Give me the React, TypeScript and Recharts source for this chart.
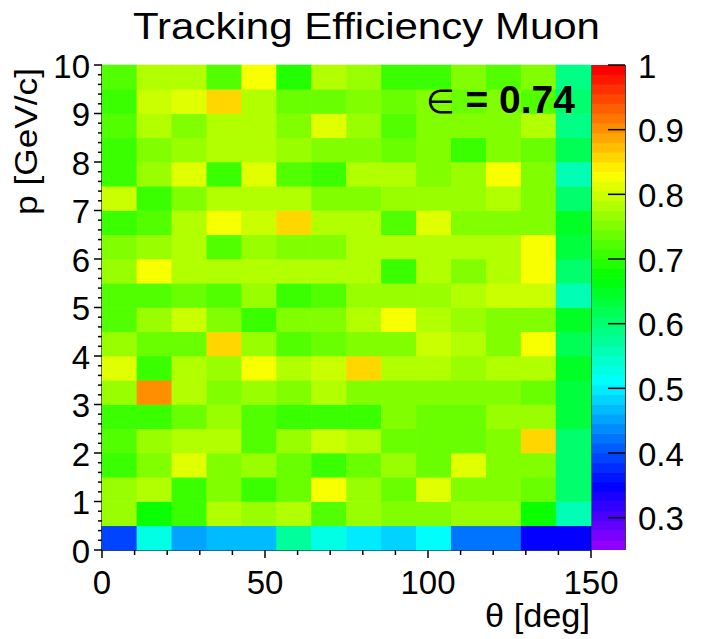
// Tracking efficiency map for muons: theta (deg) vs momentum (GeV/c),
// drawn as a ROOT-style COLZ histogram with a 50-step rainbow palette.

import { ReferenceLine, Scatter, ScatterChart, XAxis, YAxis } from "recharts";

const TITLE = "Tracking Efficiency Muon";
const X_TITLE = "θ [deg]";
const Y_TITLE = "p [GeV/c]";
const MEAN_EFF = "0.74";

// binning
const THETA_MAX = 150;
const THETA_BINS = 14;
const P_BIN = 0.5;

// palette range
const Z_MIN = 0.25;
const Z_MAX = 1;
const N_COLORS = 50;

// efficiency per theta bin, one array per momentum bin (lower edge in name)
const P00 = [0.393, 0.532, 0.457, 0.467, 0.467, 0.575, 0.532, 0.5, 0.489, 0.51, 0.425, 0.425, 0.35, 0.35];
const P05 = [0.767, 0.682, 0.703, 0.778, 0.767, 0.778, 0.725, 0.767, 0.757, 0.757, 0.767, 0.767, 0.682, 0.553];
const P10 = [0.767, 0.778, 0.703, 0.757, 0.714, 0.735, 0.832, 0.767, 0.735, 0.81, 0.757, 0.757, 0.735, 0.607];
const P15 = [0.714, 0.746, 0.81, 0.746, 0.767, 0.735, 0.714, 0.735, 0.767, 0.735, 0.81, 0.757, 0.746, 0.607];
const P20 = [0.725, 0.767, 0.789, 0.789, 0.725, 0.767, 0.8, 0.778, 0.735, 0.735, 0.735, 0.757, 0.853, 0.607];
const P25 = [0.714, 0.703, 0.735, 0.767, 0.725, 0.714, 0.703, 0.714, 0.757, 0.735, 0.735, 0.767, 0.767, 0.639];
const P30 = [0.767, 0.896, 0.778, 0.746, 0.767, 0.746, 0.778, 0.746, 0.757, 0.757, 0.757, 0.746, 0.735, 0.628];
const P35 = [0.81, 0.703, 0.778, 0.767, 0.832, 0.778, 0.8, 0.853, 0.789, 0.778, 0.767, 0.789, 0.789, 0.65];
const P40 = [0.767, 0.735, 0.735, 0.853, 0.767, 0.725, 0.735, 0.757, 0.746, 0.8, 0.778, 0.757, 0.832, 0.617];
const P45 = [0.725, 0.767, 0.8, 0.746, 0.703, 0.757, 0.746, 0.778, 0.832, 0.778, 0.767, 0.746, 0.757, 0.65];
const P50 = [0.725, 0.725, 0.735, 0.725, 0.767, 0.703, 0.725, 0.767, 0.767, 0.767, 0.778, 0.8, 0.8, 0.553];
const P55 = [0.767, 0.832, 0.789, 0.778, 0.789, 0.778, 0.778, 0.778, 0.714, 0.778, 0.746, 0.778, 0.832, 0.596];
const P60 = [0.746, 0.767, 0.789, 0.725, 0.767, 0.757, 0.746, 0.789, 0.789, 0.789, 0.778, 0.789, 0.821, 0.628];
const P65 = [0.703, 0.725, 0.778, 0.832, 0.8, 0.853, 0.778, 0.778, 0.725, 0.81, 0.757, 0.757, 0.757, 0.65];
const P70 = [0.8, 0.714, 0.757, 0.789, 0.789, 0.778, 0.757, 0.757, 0.767, 0.767, 0.767, 0.789, 0.746, 0.607];
const P75 = [0.703, 0.767, 0.81, 0.714, 0.81, 0.725, 0.714, 0.789, 0.789, 0.757, 0.767, 0.832, 0.757, 0.553];
const P80 = [0.714, 0.746, 0.767, 0.789, 0.778, 0.767, 0.757, 0.746, 0.735, 0.746, 0.703, 0.746, 0.735, 0.617];
const P85 = [0.725, 0.778, 0.757, 0.778, 0.778, 0.757, 0.81, 0.767, 0.725, 0.757, 0.746, 0.757, 0.789, 0.585];
const P90 = [0.714, 0.8, 0.81, 0.864, 0.789, 0.735, 0.735, 0.746, 0.735, 0.746, 0.735, 0.746, 0.725, 0.607];
const P95 = [0.725, 0.778, 0.778, 0.725, 0.832, 0.692, 0.789, 0.767, 0.703, 0.714, 0.757, 0.725, 0.757, 0.585];

const P_ROWS = [P00, P05, P10, P15, P20, P25, P30, P35, P40, P45, P50, P55, P60, P65, P70, P75, P80, P85, P90, P95];

// axis ticks
const X_MAJOR = [0, 50, 100, 150];
const X_TICKS = [0, 10, 20, 30, 40, 50, 60, 70, 80, 90, 100, 110, 120, 130, 140, 150];
const Y_MAJOR = [0, 1, 2, 3, 4, 5, 6, 7, 8, 9, 10];
const Z_TICKS = [0.3, 0.4, 0.5, 0.6, 0.7, 0.8, 0.9, 1];
// 4 minor ticks between each integer momentum
const Y_TICKS: number[] = [];
for (let k = 0; k <= 50; k++) Y_TICKS.push(Math.round(k * 2) / 10);

// page layout (pixels)
const W = 701;
const H = 639;
const PLOT_L = 102;
const PLOT_R = 591;
const PLOT_T = 65;
const PLOT_B = 550;
const CELL_W = (PLOT_R - PLOT_L) / THETA_BINS;
const CELL_H = (PLOT_B - PLOT_T) / P_ROWS.length;
const CB_L = 592;
const CB_R = 625;
const BAND_H = (PLOT_B - PLOT_T) / N_COLORS;

const FONT = '"Liberation Sans", Arial, Helvetica, sans-serif';
const TICK_FONT = 33;

// ROOT "pretty" palette: hue 280 -> 0, full saturation
function paletteColor(i: number) {
  const hue = 280 - (i + 1) * (280 / N_COLORS);
  return `hsl(${hue.toFixed(1)}, 100%, 50%)`;
}

function colorFor(z: number) {
  let i = Math.floor(((z - Z_MIN) / (Z_MAX - Z_MIN)) * N_COLORS);
  if (i < 0) i = 0;
  if (i > N_COLORS - 1) i = N_COLORS - 1;
  return paletteColor(i);
}

const thetaWidth = THETA_MAX / THETA_BINS;
const cells = P_ROWS.flatMap((row, r) =>
  row.map((eff, c) => ({
    theta: (c + 0.5) * thetaWidth,
    p: (r + 0.5) * P_BIN,
    eff,
  })),
);

const bands = Array.from({ length: N_COLORS }, (_, i) => ({
  x: 0.5,
  z: Z_MIN + ((i + 0.5) * (Z_MAX - Z_MIN)) / N_COLORS,
  i,
}));

const CellShape = (props: any) => {
  const { cx, cy, payload } = props;
  return (
    <rect
      x={cx - CELL_W / 2 - 0.3}
      y={cy - CELL_H / 2 - 0.3}
      width={CELL_W + 0.6}
      height={CELL_H + 0.6}
      fill={colorFor(payload.eff)}
    />
  );
};

const BandShape = (props: any) => {
  const { cx, cy, payload } = props;
  const w = CB_R - CB_L;
  return (
    <rect
      x={cx - w / 2}
      y={cy - BAND_H / 2 - 0.3}
      width={w}
      height={BAND_H + 0.6}
      fill={paletteColor(payload.i)}
    />
  );
};

const XTick = (props: any) => {
  const { x, y, payload } = props;
  const v = payload.value;
  const major = X_MAJOR.includes(v);
  return (
    <g>
      <line x1={x} x2={x} y1={y} y2={y + (major ? 8 : 5)} stroke="#000" strokeWidth={1.5} />
      {major && (
        <text x={x} y={y + 44} textAnchor="middle" fontSize={TICK_FONT} fontFamily={FONT} fill="#000">
          {v}
        </text>
      )}
    </g>
  );
};

const YTick = (props: any) => {
  const { x, y, payload } = props;
  const v = payload.value;
  const major = Y_MAJOR.includes(v);
  return (
    <g>
      <line x1={x - (major ? 8 : 4)} x2={x} y1={y} y2={y} stroke="#000" strokeWidth={1.5} />
      {major && (
        <text x={x - 12} y={y + 12.5} textAnchor="end" fontSize={TICK_FONT} fontFamily={FONT} fill="#000">
          {v}
        </text>
      )}
    </g>
  );
};

const ZTick = (props: any) => {
  const { x, y, payload } = props;
  return (
    <g>
      <line x1={x - 17} x2={x} y1={y} y2={y} stroke="#000" strokeWidth={1.5} />
      <text x={x + 13} y={y + 12.5} textAnchor="start" fontSize={TICK_FONT} fontFamily={FONT} fill="#000">
        {payload.value}
      </text>
    </g>
  );
};

export default function App() {
  const cbLeft = 560;
  const cbWidth = W - cbLeft;
  return (
    <div style={{ position: "absolute", left: 0, top: 0, width: W, height: H, background: "#fff" }}>
      <div style={{ position: "absolute", left: 0, top: 0 }}>
        <ScatterChart
          width={W}
          height={H}
          margin={{ top: PLOT_T, right: W - PLOT_R, bottom: 0, left: 0 }}
        >
          <Scatter data={cells} shape={CellShape} isAnimationActive={false} />
          <XAxis
            type="number"
            dataKey="theta"
            domain={[0, THETA_MAX]}
            ticks={X_TICKS}
            interval={0}
            height={H - PLOT_B}
            tickSize={0}
            tickMargin={0}
            tickLine={false}
            axisLine={{ stroke: "#000", strokeWidth: 1.5 }}
            tick={<XTick />}
          />
          <YAxis
            type="number"
            dataKey="p"
            domain={[0, 10]}
            ticks={Y_TICKS}
            interval={0}
            width={PLOT_L}
            tickSize={0}
            tickMargin={0}
            tickLine={false}
            axisLine={{ stroke: "#000", strokeWidth: 1.5 }}
            tick={<YTick />}
          />
          <ReferenceLine x={THETA_MAX} stroke="#000" strokeWidth={1.5} />
        </ScatterChart>
      </div>
      <div style={{ position: "absolute", left: cbLeft, top: 0 }}>
        <ScatterChart
          width={cbWidth}
          height={H}
          margin={{ top: PLOT_T, right: 0, bottom: H - PLOT_B, left: CB_L - cbLeft }}
        >
          <XAxis type="number" dataKey="x" domain={[0, 1]} hide />
          <YAxis
            type="number"
            dataKey="z"
            orientation="right"
            domain={[Z_MIN, Z_MAX]}
            allowDataOverflow
            ticks={Z_TICKS}
            interval={0}
            width={cbWidth - (CB_R - cbLeft)}
            tickSize={0}
            tickMargin={0}
            tickLine={false}
            axisLine={{ stroke: "#000", strokeWidth: 1.5 }}
            tick={<ZTick />}
          />
          <Scatter data={bands} shape={BandShape} isAnimationActive={false} />
        </ScatterChart>
      </div>
      <svg
        width={W}
        height={H}
        style={{ position: "absolute", left: 0, top: 0, pointerEvents: "none" }}
        fontFamily={FONT}
      >
        <text x={366.5} y={38.5} textAnchor="middle" fontSize={37} textLength={467} lengthAdjust="spacingAndGlyphs">
          {TITLE}
        </text>
        <text x={590} y={627} textAnchor="end" fontSize={33} textLength={105} lengthAdjust="spacingAndGlyphs">
          {X_TITLE}
        </text>
        <text
          transform="rotate(-90)"
          x={-68}
          y={37}
          textAnchor="end"
          fontSize={31}
          textLength={147}
          lengthAdjust="spacingAndGlyphs"
        >
          {Y_TITLE}
        </text>
        <text x={575} y={113} textAnchor="end" fontSize={39}>
          <tspan fontFamily='"DejaVu Sans", sans-serif' fontSize={33}>∈</tspan>
          <tspan fontWeight="bold">{` = ${MEAN_EFF}`}</tspan>
        </text>
      </svg>
    </div>
  );
}
